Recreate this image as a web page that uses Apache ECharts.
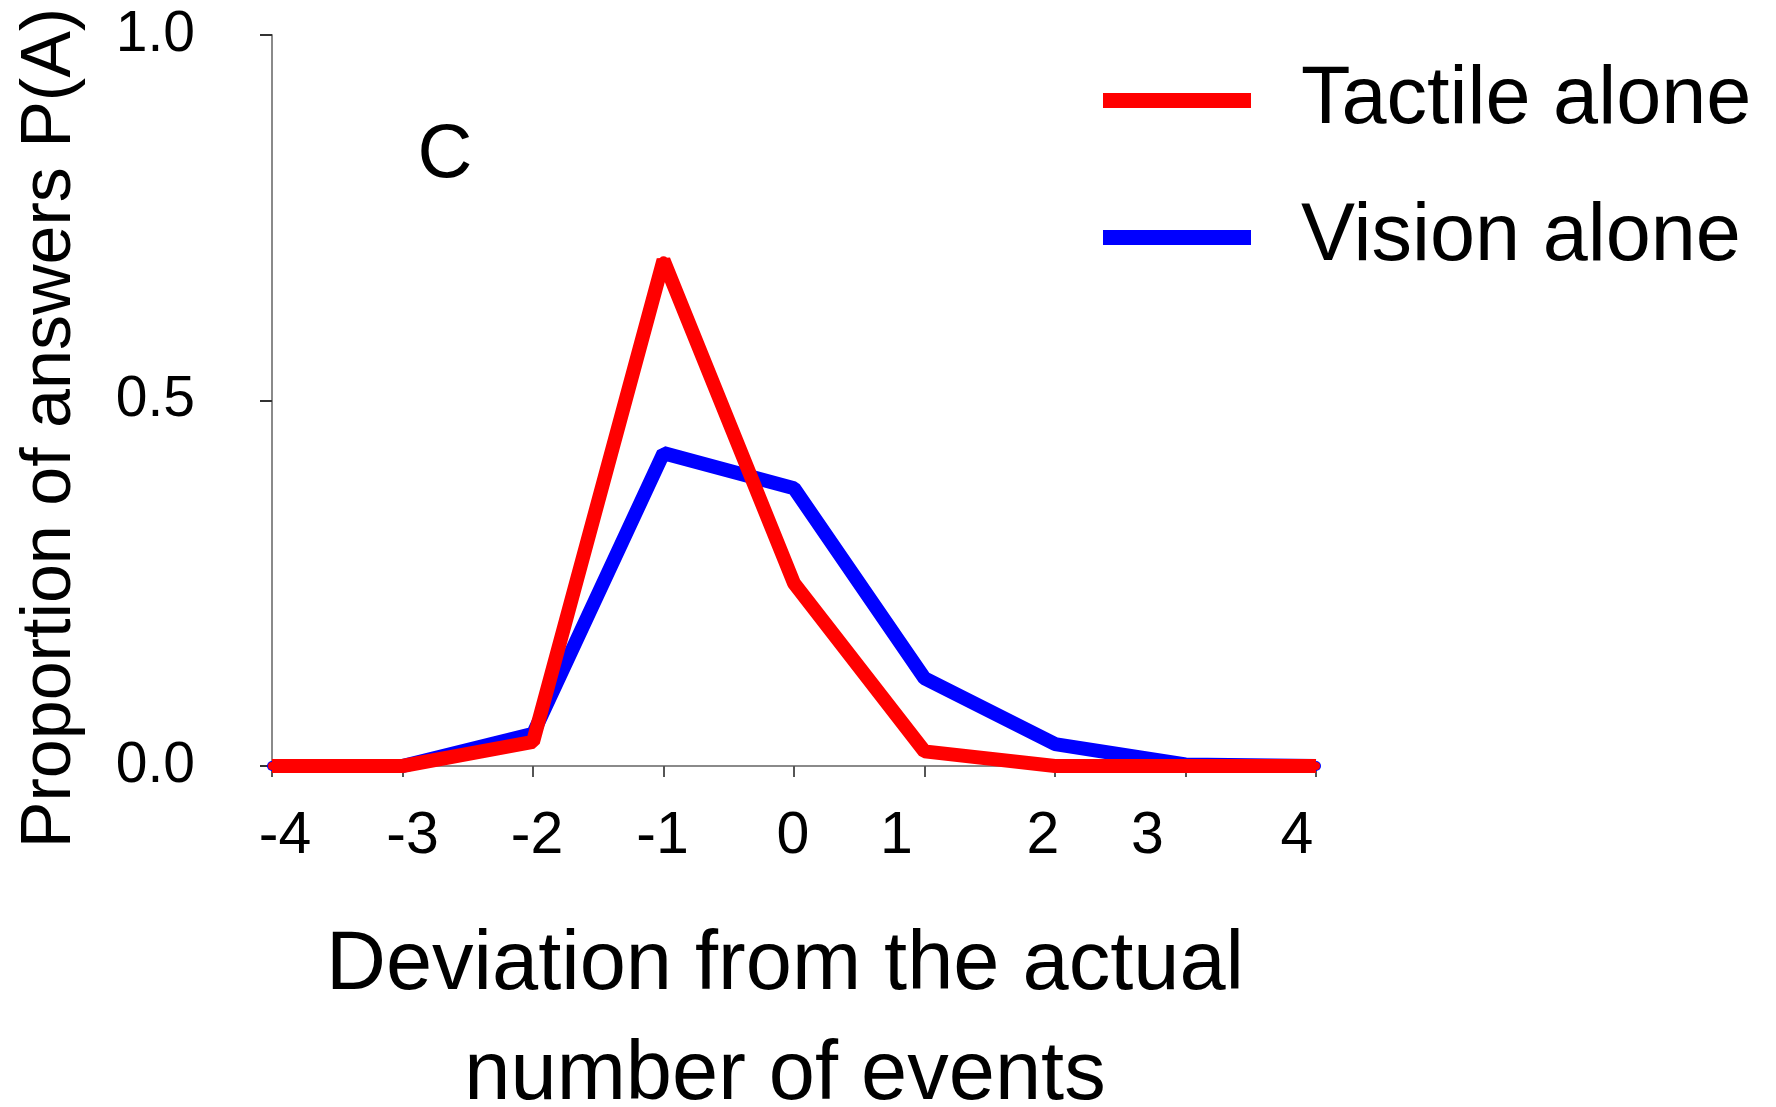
<!DOCTYPE html>
<html>
<head>
<meta charset="utf-8">
<script src="https://cdn.jsdelivr.net/npm/echarts@6/dist/echarts.min.js"></script>
<style>
  html, body { margin: 0; padding: 0; background: #fff; }
  #chart { width: 1776px; height: 1107px; }
</style>
</head>
<body>
<div id="chart"></div>
<script>
// ---- data ----
const deviations = [-4, -3, -2, -1, 0, 1, 2, 3, 4];
const xTickLabels = ['-4', '-3', '-2', '-1', '0', '1', '2', '3', '4'];
const yTicks = [0, 0.5, 1.0];
const tactileAlone = [0, 0, 0.033, 0.692, 0.25, 0.02, 0, 0, 0];
const visionAlone = [0, 0, 0.044, 0.428, 0.38, 0.12, 0.03, 0.002, 0];
const seriesNames = ['Tactile alone', 'Vision alone'];
const panelLetter = 'C';
const yTitle = 'Proportion of answers P(A)';
const xTitle = 'Deviation from the actual\nnumber of events';

// ---- layout (label nudges in px, not data) ----
const labelNudge = [13, 10, 4, -1, -1, -28, -12, -38, -19];
const FONT = '"Liberation Sans", Arial, sans-serif';

const rich = {};
labelNudge.forEach((d, i) => {
  rich['n' + i] = {
    fontFamily: FONT, fontSize: 59, color: '#000',
    padding: d >= 0 ? [0, 0, 0, 2 * d] : [0, -2 * d, 0, 0]
  };
});

const chart = echarts.init(document.getElementById('chart'), null, { renderer: 'canvas' });
chart.setOption({
  animation: false,
  backgroundColor: '#fff',
  grid: { left: 272, right: 460, top: 35, bottom: 341, containLabel: false },
  legend: {
    data: seriesNames,
    orient: 'vertical',
    left: 1098, top: 55,
    icon: 'rect',
    itemWidth: 148, itemHeight: 15,
    itemGap: 56,
    textStyle: { fontFamily: FONT, fontSize: 81, color: '#000', lineHeight: 80, padding: [0, 0, 0, 45] }
  },
  xAxis: {
    type: 'value', min: -4, max: 4, interval: 1,
    axisLine: { show: true, onZero: false, lineStyle: { color: '#8a8a8a', width: 2 } },
    axisTick: { show: true, length: 11, lineStyle: { color: '#555', width: 2 } },
    splitLine: { show: false },
    axisLabel: {
      margin: 41,
      formatter: function (v) {
        const i = deviations.indexOf(v);
        return i < 0 ? '' : '{n' + i + '|' + xTickLabels[i] + '}';
      },
      rich: rich
    }
  },
  yAxis: {
    type: 'value', min: 0, max: 1, interval: 0.5,
    axisLine: { show: true, onZero: false, lineStyle: { color: '#8a8a8a', width: 2 } },
    axisTick: { show: true, length: 12, lineStyle: { color: '#333', width: 2 } },
    splitLine: { show: false },
    axisLabel: {
      margin: 77,
      fontFamily: FONT, fontSize: 57, color: '#000',
      formatter: function (v) { return yTicks.indexOf(v) >= 0 ? v.toFixed(1) : ''; }
    }
  },
  series: [
    {
      name: seriesNames[1], type: 'line',
      data: deviations.map((x, i) => [x, visionAlone[i]]),
      color: '#0000ff',
      lineStyle: { color: '#0000ff', width: 14 },
      symbol: 'circle', symbolSize: 10,
      itemStyle: { color: '#0000ff' },
      z: 2
    },
    {
      name: seriesNames[0], type: 'line',
      data: deviations.map((x, i) => [x, tactileAlone[i]]),
      color: '#ff0000',
      lineStyle: { color: '#ff0000', width: 14 },
      symbol: 'circle', symbolSize: 8,
      itemStyle: { color: '#ff0000' },
      z: 3
    }
  ],
  graphic: [
    {
      type: 'text', x: 445, y: 156,
      style: { text: panelLetter, fontFamily: FONT, fontSize: 76, fill: '#000', textAlign: 'center', textVerticalAlign: 'middle' }
    },
    {
      type: 'text', x: 51, y: 428, rotation: Math.PI / 2,
      style: { text: yTitle, fontFamily: FONT, fontSize: 70, fill: '#000', textAlign: 'center', textVerticalAlign: 'middle' }
    },
    {
      type: 'text', x: 785, y: 1021,
      style: { text: xTitle, fontFamily: FONT, fontSize: 83, lineHeight: 110, fill: '#000', textAlign: 'center', textVerticalAlign: 'middle' }
    }
  ]
});
</script>
</body>
</html>
